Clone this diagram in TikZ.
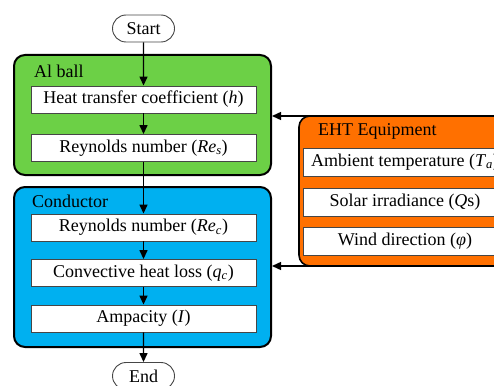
\documentclass[tikz,border=0pt]{standalone}
\usepackage{fontspec}
\setmainfont{Liberation Serif}
\usetikzlibrary{arrows.meta,shapes.misc}
\definecolor{ballgreen}{RGB}{108,208,70}
\definecolor{condblue}{RGB}{0,176,240}
\definecolor{ehtorange}{RGB}{255,112,0}
\definecolor{edgegrey}{RGB}{70,70,70}
\newcommand{\vsub}[1]{\textsubscript{\textit{#1}}}
\tikzset{
  group/.style={draw=black, line width=2pt, rounded corners=11pt},
  stepbox/.style={draw=edgegrey, line width=0.9pt, fill=white, minimum width=225pt,
    minimum height=27pt, inner sep=0pt},
  inbox/.style={draw=edgegrey, line width=0.9pt, fill=white, minimum width=204pt,
    minimum height=28pt, inner sep=0pt},
  terminal/.style={draw=edgegrey, line width=0.9pt, fill=white, rounded rectangle,
    minimum width=62pt, minimum height=27pt, inner sep=0pt},
  grouplabel/.style={anchor=west, inner sep=0pt},
  flow/.style={line width=1.4pt, -{Triangle[length=9pt,width=8pt]}},
}
\begin{document}
\begin{tikzpicture}[x=1pt, y=-1pt, font=\fontsize{18}{21}\selectfont]
\useasboundingbox (0,0) rectangle (494,385);
\clip (0,0) rectangle (494,385);

% group panels
\node[group, fill=ballgreen, minimum width=257pt, minimum height=120pt] (ball) at (142.5,115) {};
\node[group, fill=condblue, minimum width=257pt, minimum height=160pt] (cond) at (142.5,267) {};
\node[group, line width=1.6pt, fill=ehtorange, minimum width=210pt, minimum height=150pt] (eht) at (404,191) {};

\node[grouplabel] (lball) at (34,71) {Al ball};
\node[grouplabel] (lcond) at (32,201) {Conductor};
\node[grouplabel] (leht) at (318,131) {EHT Equipment};

% flow steps
\node[terminal] (start) at (143.5,28.5) {Start};
\node[stepbox] (heat) at (143.5,99.5) {Heat transfer coefficient (\textit{h})};
\node[stepbox] (res) at (143.5,148) {Reynolds number (\textit{Re}\vsub{s})};
\node[stepbox] (rec) at (143.5,227.5) {Reynolds number (\textit{Re}\vsub{c})};
\node[stepbox] (conv) at (143.5,273) {Convective heat loss (\textit{q}\vsub{c})};
\node[stepbox] (amp) at (143.5,318.5) {Ampacity (\textit{I})};
\node[terminal] (stop) at (143.5,376) {End};

% equipment inputs
\node[inbox] (amb) at (405,162) {Ambient temperature (\textit{T}\vsub{a})};
\node[inbox] (sol) at (405,202.5) {Solar irradiance (\textit{Q}s)};
\node[inbox] (wind) at (405,241.5) {Wind direction (\textit{φ})};

% connectors
\draw[flow] (start) -- (heat);
\draw[flow] (heat) -- (res);
\draw[flow] (res) -- (rec);
\draw[flow] (rec) -- (conv);
\draw[flow] (conv) -- (amp);
\draw[flow] (amp) -- (stop);

\coordinate (feedtop) at (520,116);
\coordinate (feedbot) at (520,266);
\draw[flow] (feedtop) -- (feedtop -| ball.east);
\draw[flow] (feedbot) -- (feedbot -| cond.east);
\end{tikzpicture}
\end{document}
